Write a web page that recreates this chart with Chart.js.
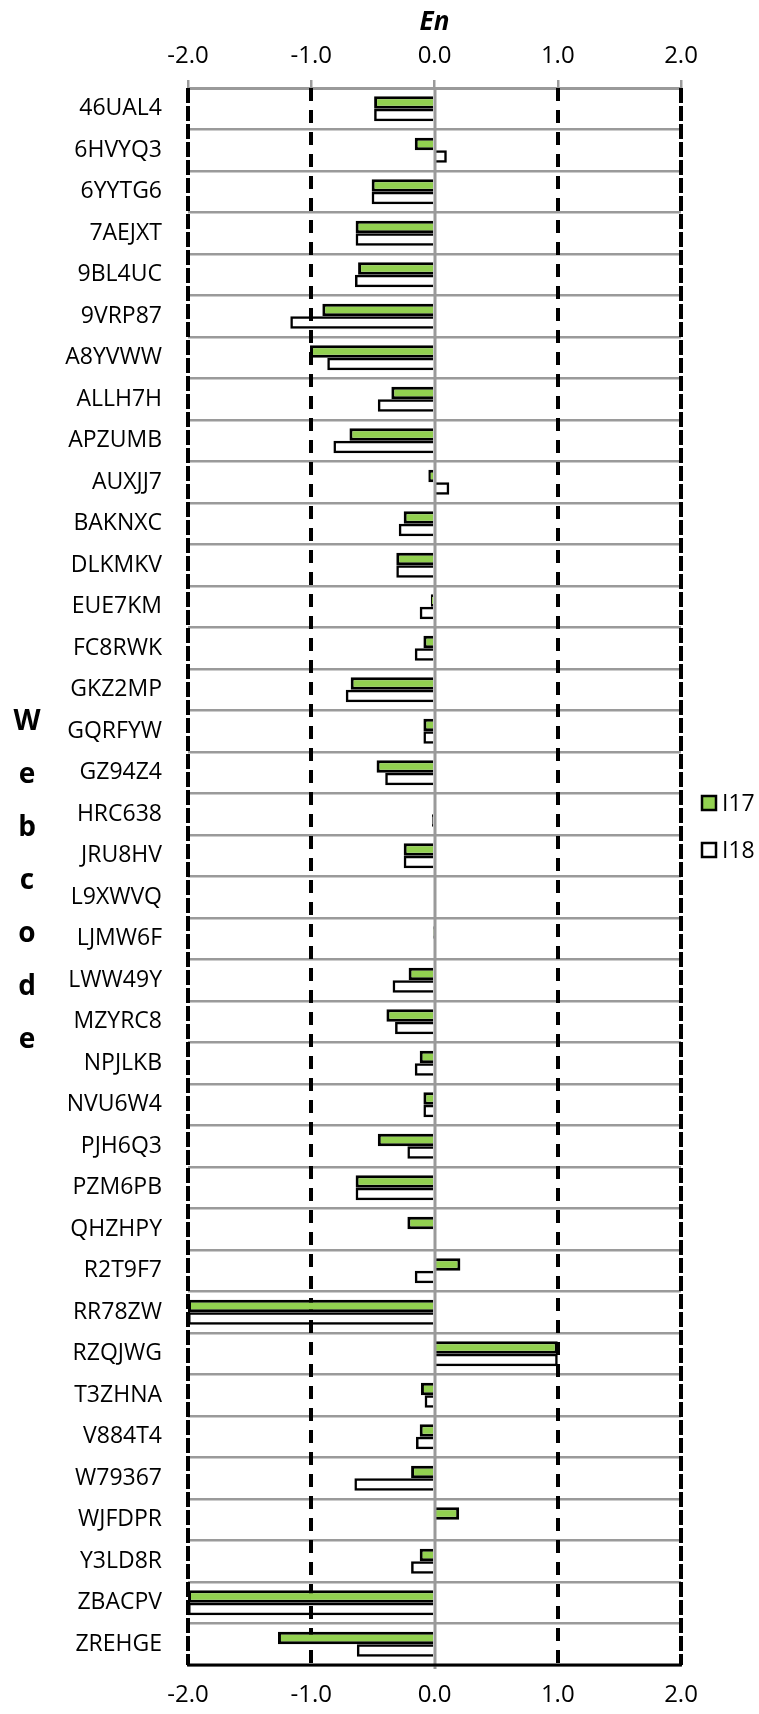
<!DOCTYPE html>
<html>
<head>
<meta charset="utf-8">
<title>En by Webcode</title>
<script src="https://cdn.jsdelivr.net/npm/chart.js@4.4.1/dist/chart.umd.min.js"></script>
<style>
  html, body { margin: 0; padding: 0; background: #ffffff; }
  #wrap { width: 759px; height: 1714px; position: relative; }
  canvas { display: block; }
</style>
</head>
<body>
<div id="wrap"><canvas id="chart" width="759" height="1714"></canvas></div>
<script>
// Laboratory webcodes (one row each)
const categories = [
  '46UAL4', '6HVYQ3', '6YYTG6', '7AEJXT', '9BL4UC', '9VRP87', 'A8YVWW', 'ALLH7H',
  'APZUMB', 'AUXJJ7', 'BAKNXC', 'DLKMKV', 'EUE7KM', 'FC8RWK', 'GKZ2MP', 'GQRFYW',
  'GZ94Z4', 'HRC638', 'JRU8HV', 'L9XWVQ', 'LJMW6F', 'LWW49Y', 'MZYRC8', 'NPJLKB',
  'NVU6W4', 'PJH6Q3', 'PZM6PB', 'QHZHPY', 'R2T9F7', 'RR78ZW', 'RZQJWG', 'T3ZHNA',
  'V884T4', 'W79367', 'WJFDPR', 'Y3LD8R', 'ZBACPV', 'ZREHGE'
];

// En scores, round I17
const i17 = [
  -0.49, -0.16, -0.51, -0.64, -0.62, -0.91, -1.01, -0.35,
  -0.69, -0.05, -0.25, -0.31, -0.03, -0.09, -0.68, -0.09,
  -0.47, -0.01, -0.25, 0.00, -0.005, -0.21, -0.39, -0.12,
  -0.09, -0.46, -0.64, -0.22, 0.21, -2.00, 1.00, -0.11,
  -0.12, -0.19, 0.20, -0.12, -2.00, -1.27
];

// En scores, round I18
const i18 = [
  -0.49, 0.10, -0.51, -0.64, -0.645, -1.17, -0.87, -0.46,
  -0.82, 0.12, -0.29, -0.31, -0.12, -0.16, -0.72, -0.09,
  -0.40, -0.02, -0.25, 0.00, -0.01, -0.34, -0.32, -0.16,
  -0.09, -0.22, -0.64, 0.00, -0.16, -2.00, 1.00, -0.08,
  -0.15, -0.65, 0.00, -0.19, -2.00, -0.63
];

const seriesNames = ['I17', 'I18'];
const xTickValues = [-2, -1, 0, 1, 2];
const xTickLabels = ['-2.0', '-1.0', '0.0', '1.0', '2.0'];
const valueAxisTitle = 'En';
const categoryAxisTitle = 'Webcode';

const FONT = "'Open Sans', 'Noto Sans', 'DejaVu Sans', sans-serif";
const GREEN = '#92D050';
const GRID_GREY = '#9a9a9a';

Chart.defaults.font.family = FONT;
Chart.defaults.color = '#000000';

function tickText(value) {
  const i = xTickValues.indexOf(value);
  return i >= 0 ? xTickLabels[i] : '';
}

// Dashed reference lines at the non-zero ticks, drawn under the bars
const verticalGuides = {
  id: 'verticalGuides',
  beforeDatasetsDraw(chart) {
    const { ctx, chartArea } = chart;
    const xs = chart.scales.x;
    ctx.save();
    ctx.strokeStyle = '#000000';
    ctx.lineWidth = 4;
    xTickValues.forEach(v => {
      if (v === 0) return;
      const px = Math.round(xs.getPixelForValue(v));
      ctx.setLineDash(Math.abs(v) === 2 ? [15, 3] : [13, 9]);
      ctx.beginPath();
      ctx.moveTo(px, chartArea.top);
      ctx.lineTo(px, chartArea.bottom);
      ctx.stroke();
    });
    ctx.restore();
  },
  afterDatasetsDraw(chart) {
    const { ctx, chartArea } = chart;
    const xs = chart.scales.x;
    ctx.save();
    // zero line on top of the bars
    const x0 = Math.round(xs.getPixelForValue(0));
    ctx.strokeStyle = GRID_GREY;
    ctx.lineWidth = 3;
    ctx.beginPath();
    ctx.moveTo(x0, chartArea.top);
    ctx.lineTo(x0, chartArea.bottom + 4);
    ctx.stroke();
    // bottom frame line
    ctx.strokeStyle = '#000000';
    ctx.lineWidth = 3;
    ctx.beginPath();
    ctx.moveTo(chartArea.left - 1, chartArea.bottom);
    ctx.lineTo(chartArea.right + 1, chartArea.bottom);
    ctx.stroke();
    ctx.restore();
  }
};

// Stacked category-axis title and the series key on the right
const sideLabels = {
  id: 'sideLabels',
  afterDraw(chart) {
    const { ctx } = chart;
    ctx.save();
    ctx.fillStyle = '#000000';
    ctx.textAlign = 'center';
    ctx.textBaseline = 'middle';
    ctx.font = "bold 28px " + FONT;
    const letters = Array.from(categoryAxisTitle);
    letters.forEach((ch, i) => {
      ctx.fillText(ch, 27, 722 + i * 53);
    });

    const ds = chart.data.datasets;
    ctx.textAlign = 'left';
    ctx.font = "23px " + FONT;
    ds.forEach((d, i) => {
      const cy = 803 + i * 47;
      ctx.fillStyle = d.backgroundColor === 'rgba(0,0,0,0)' ? '#ffffff' : d.backgroundColor;
      ctx.fillRect(702, cy - 7, 14, 14);
      ctx.strokeStyle = '#000000';
      ctx.lineWidth = 2.5;
      ctx.strokeRect(702, cy - 7, 14, 14);
      ctx.fillStyle = '#000000';
      ctx.fillText(d.label, 722, cy + 1);
    });
    ctx.restore();
  }
};

new Chart(document.getElementById('chart'), {
  type: 'bar',
  data: {
    labels: categories,
    datasets: [
      {
        label: seriesNames[0],
        data: i17,
        xAxisID: 'x',
        backgroundColor: GREEN,
        borderColor: '#000000',
        borderWidth: 3,
        categoryPercentage: 0.6,
        barPercentage: 1.0
      },
      {
        label: seriesNames[1],
        data: i18,
        xAxisID: 'x',
        backgroundColor: 'rgba(0,0,0,0)',
        borderColor: '#000000',
        borderWidth: 2.5,
        categoryPercentage: 0.6,
        barPercentage: 1.0
      }
    ]
  },
  options: {
    indexAxis: 'y',
    responsive: false,
    animation: false,
    devicePixelRatio: 1,
    layout: { padding: { left: 0, right: 78, top: 0, bottom: 0 } },
    plugins: {
      legend: { display: false },
      tooltip: { enabled: false }
    },
    scales: {
      x: {
        type: 'linear',
        position: 'top',
        min: -2,
        max: 2,
        afterBuildTicks(scale) {
          scale.ticks = xTickValues.map(v => ({ value: v }));
        },
        ticks: {
          callback: v => tickText(v),
          font: { size: 24 },
          color: '#000000',
          padding: 9,
          maxRotation: 0
        },
        grid: {
          drawOnChartArea: false,
          drawTicks: true,
          tickLength: 8,
          color: GRID_GREY,
          lineWidth: 2.5
        },
        border: { display: true, color: GRID_GREY, width: 3 },
        title: {
          display: true,
          text: valueAxisTitle,
          font: { size: 26, weight: 'bold', style: 'italic' },
          color: '#000000',
          padding: { top: 7, bottom: 0 }
        },
        afterFit(scale) { scale.height = 88; }
      },
      x2: {
        type: 'linear',
        axis: 'x',
        position: 'bottom',
        min: -2,
        max: 2,
        afterBuildTicks(scale) {
          scale.ticks = xTickValues.map(v => ({ value: v }));
        },
        ticks: {
          callback: v => tickText(v),
          font: { size: 24 },
          color: '#000000',
          padding: 11,
          maxRotation: 0
        },
        grid: {
          drawOnChartArea: false,
          drawTicks: true,
          tickLength: 5,
          color: 'rgba(0,0,0,0)',
          lineWidth: 2.5
        },
        border: { display: false },
        afterFit(scale) { scale.height = 49; }
      },
      y: {
        type: 'category',
        offset: true,
        grid: {
          offset: true,
          color: GRID_GREY,
          lineWidth: 2.5,
          drawTicks: false
        },
        border: { display: false },
        ticks: {
          font: { size: 23 },
          color: '#000000',
          padding: 26,
          autoSkip: false
        },
        afterFit(scale) { scale.width = 188; }
      }
    }
  },
  plugins: [verticalGuides, sideLabels]
});
</script>
</body>
</html>
